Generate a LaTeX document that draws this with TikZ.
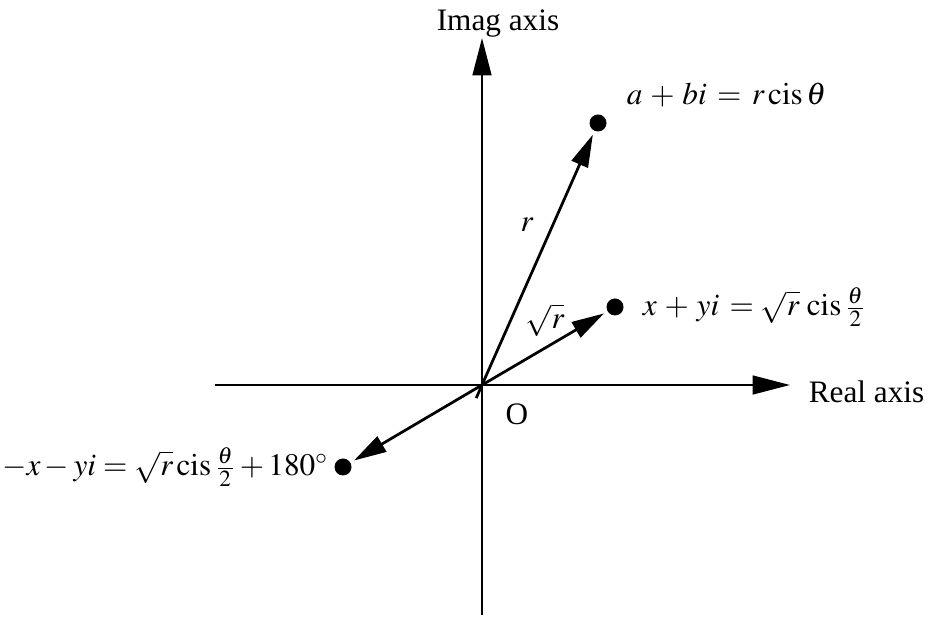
\documentclass[tikz,border=0pt]{standalone}
\usepackage{mathptmx}
\usepackage{fontspec}
\setmainfont{Liberation Serif}
\usetikzlibrary{arrows.meta,positioning,calc}
\newcommand{\cis}{\mathop{\mathrm{cis}}}

\begin{document}
\begin{tikzpicture}[x=0.4pt,y=-0.4pt, every node/.style={font=\fontsize{12.5}{15}\selectfont},
 ax/.style={line width=1pt,-{Triangle[length=15pt,width=7.5pt]}},
 vec/.style={line width=1.1pt,-{Triangle[length=13pt,width=7pt]},shorten >=1.5pt},
 pt/.style={circle,fill=black,inner sep=0pt,minimum size=6.8pt}]
\useasboundingbox (0,0) rectangle (925,617);
\coordinate (O) at (482,385);
\coordinate (xl) at (215,385);
\coordinate (xr) at (790,385);
\coordinate (yb) at (482,615);
\coordinate (yt) at (482,38);
\node[pt] (A) at (598,123) {};
\node[pt] (B) at (615,307) {};
\node[pt] (C) at (343,467) {};
% axes
\draw[ax] (xl)--(xr);
\draw[ax] (yb)--(yt);
\node[anchor=base] (imag) at (498,31) {Imag axis};
\node[anchor=west] (real) at (800,392) {Real axis};
\node (o) at (517,414) {O};
% vectors
\coordinate (A0) at ($(O)!-0.05!(A)$);
\draw[vec] (A0)--(A);
\foreach \p in {B,C}{\draw[vec] (O)--(\p);}
\node (rl) at (527,225) {$r$};
\node (sl) at (545,320) {$\sqrt{r}$};
\node[anchor=base west] (Al) at (618,105) {$a\,+\,bi\,=\,r\cis\theta$};
\node[anchor=base west] (Bl) at (634,316) {$x\,+\,yi\,=\sqrt{r}\,\cis\frac{\theta}{2}$};
\node[anchor=base east] (Cl) at (337,476) {$-x-yi=\sqrt{r}\cis\frac{\theta}{2}+180^\circ$};
\end{tikzpicture}
\end{document}
